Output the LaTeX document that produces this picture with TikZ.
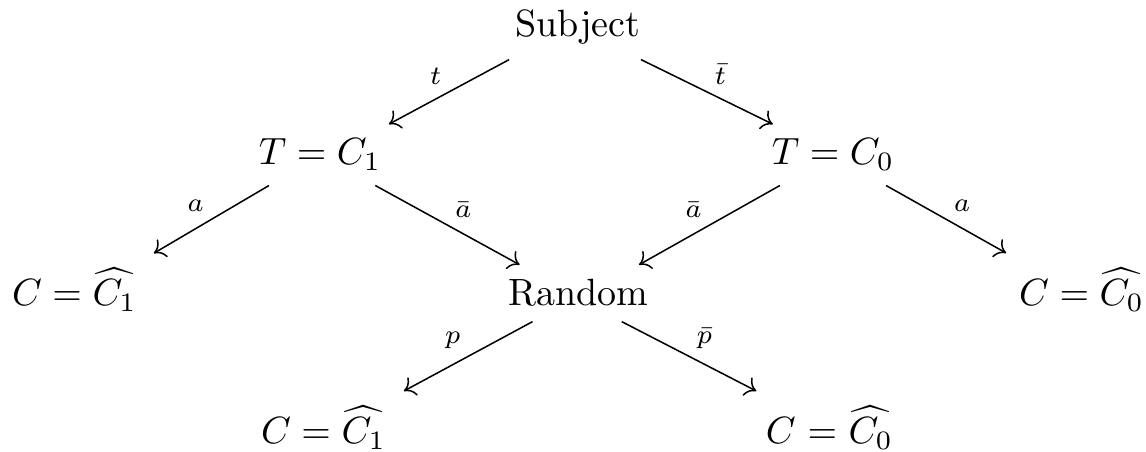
\documentclass[tikz,border=0pt]{standalone}
\usetikzlibrary{arrows.meta}
\begin{document}
\begin{tikzpicture}[x=0.26316pt, y=-0.26316pt,
  cell/.style={anchor=base, inner sep=3.7pt},
  arr/.style={-{Computer Modern Rightarrow[length=2.8pt,width=5.4pt]}, line width=0.4pt},
  lbl/.style={inner sep=1.8pt, font=\scriptsize}]
\useasboundingbox (0,0) rectangle (1146,452);
\node[cell] (s)  at (578,37)  {Subject};
\node[cell] (t1) at (320,165) {$T = C_1$};
\node[cell] (t0) at (833,165) {$T = C_0$};
\node[cell, text width=33.4pt, align=left] (l)  at (75.5,306)  {$C = \widehat{C_1}$};
\node[cell] (r)  at (578,306) {Random};
\node[cell] (rr) at (1081.5,306) {$C = \widehat{C_0}$};
\node[cell, text width=35.5pt, align=left] (b1) at (328.5,444) {$C = \widehat{C_1}$};
\node[cell, text width=35.5pt, align=right] (b0) at (825.5,444) {$C = \widehat{C_0}$};
\draw[arr] (s.205.8) -- node[lbl, above left] {$t$} (t1.24.8);
\draw[arr] (s.333.8) -- node[lbl, above right] {$\bar{t}$} (t0.153.8);
\draw[arr] (t1.211.3) -- node[lbl, above left] {$a$} (l.25.8);
\draw[arr] (t1.331) -- node[lbl, above right] {$\bar{a}$} (r.154.4);
\draw[arr] (t0.210.3) -- node[lbl, above left] {$\bar{a}$} (r.25.2);
\draw[arr] (t0.330.1) -- node[lbl, above right] {$a$} (rr.154.2);
\draw[arr] (r.212) -- node[lbl, above left] {$p$} (b1.26.1);
\draw[arr] (r.327.3) -- node[lbl, above right] {$\bar{p}$} (b0.152.95);
\end{tikzpicture}
\end{document}
